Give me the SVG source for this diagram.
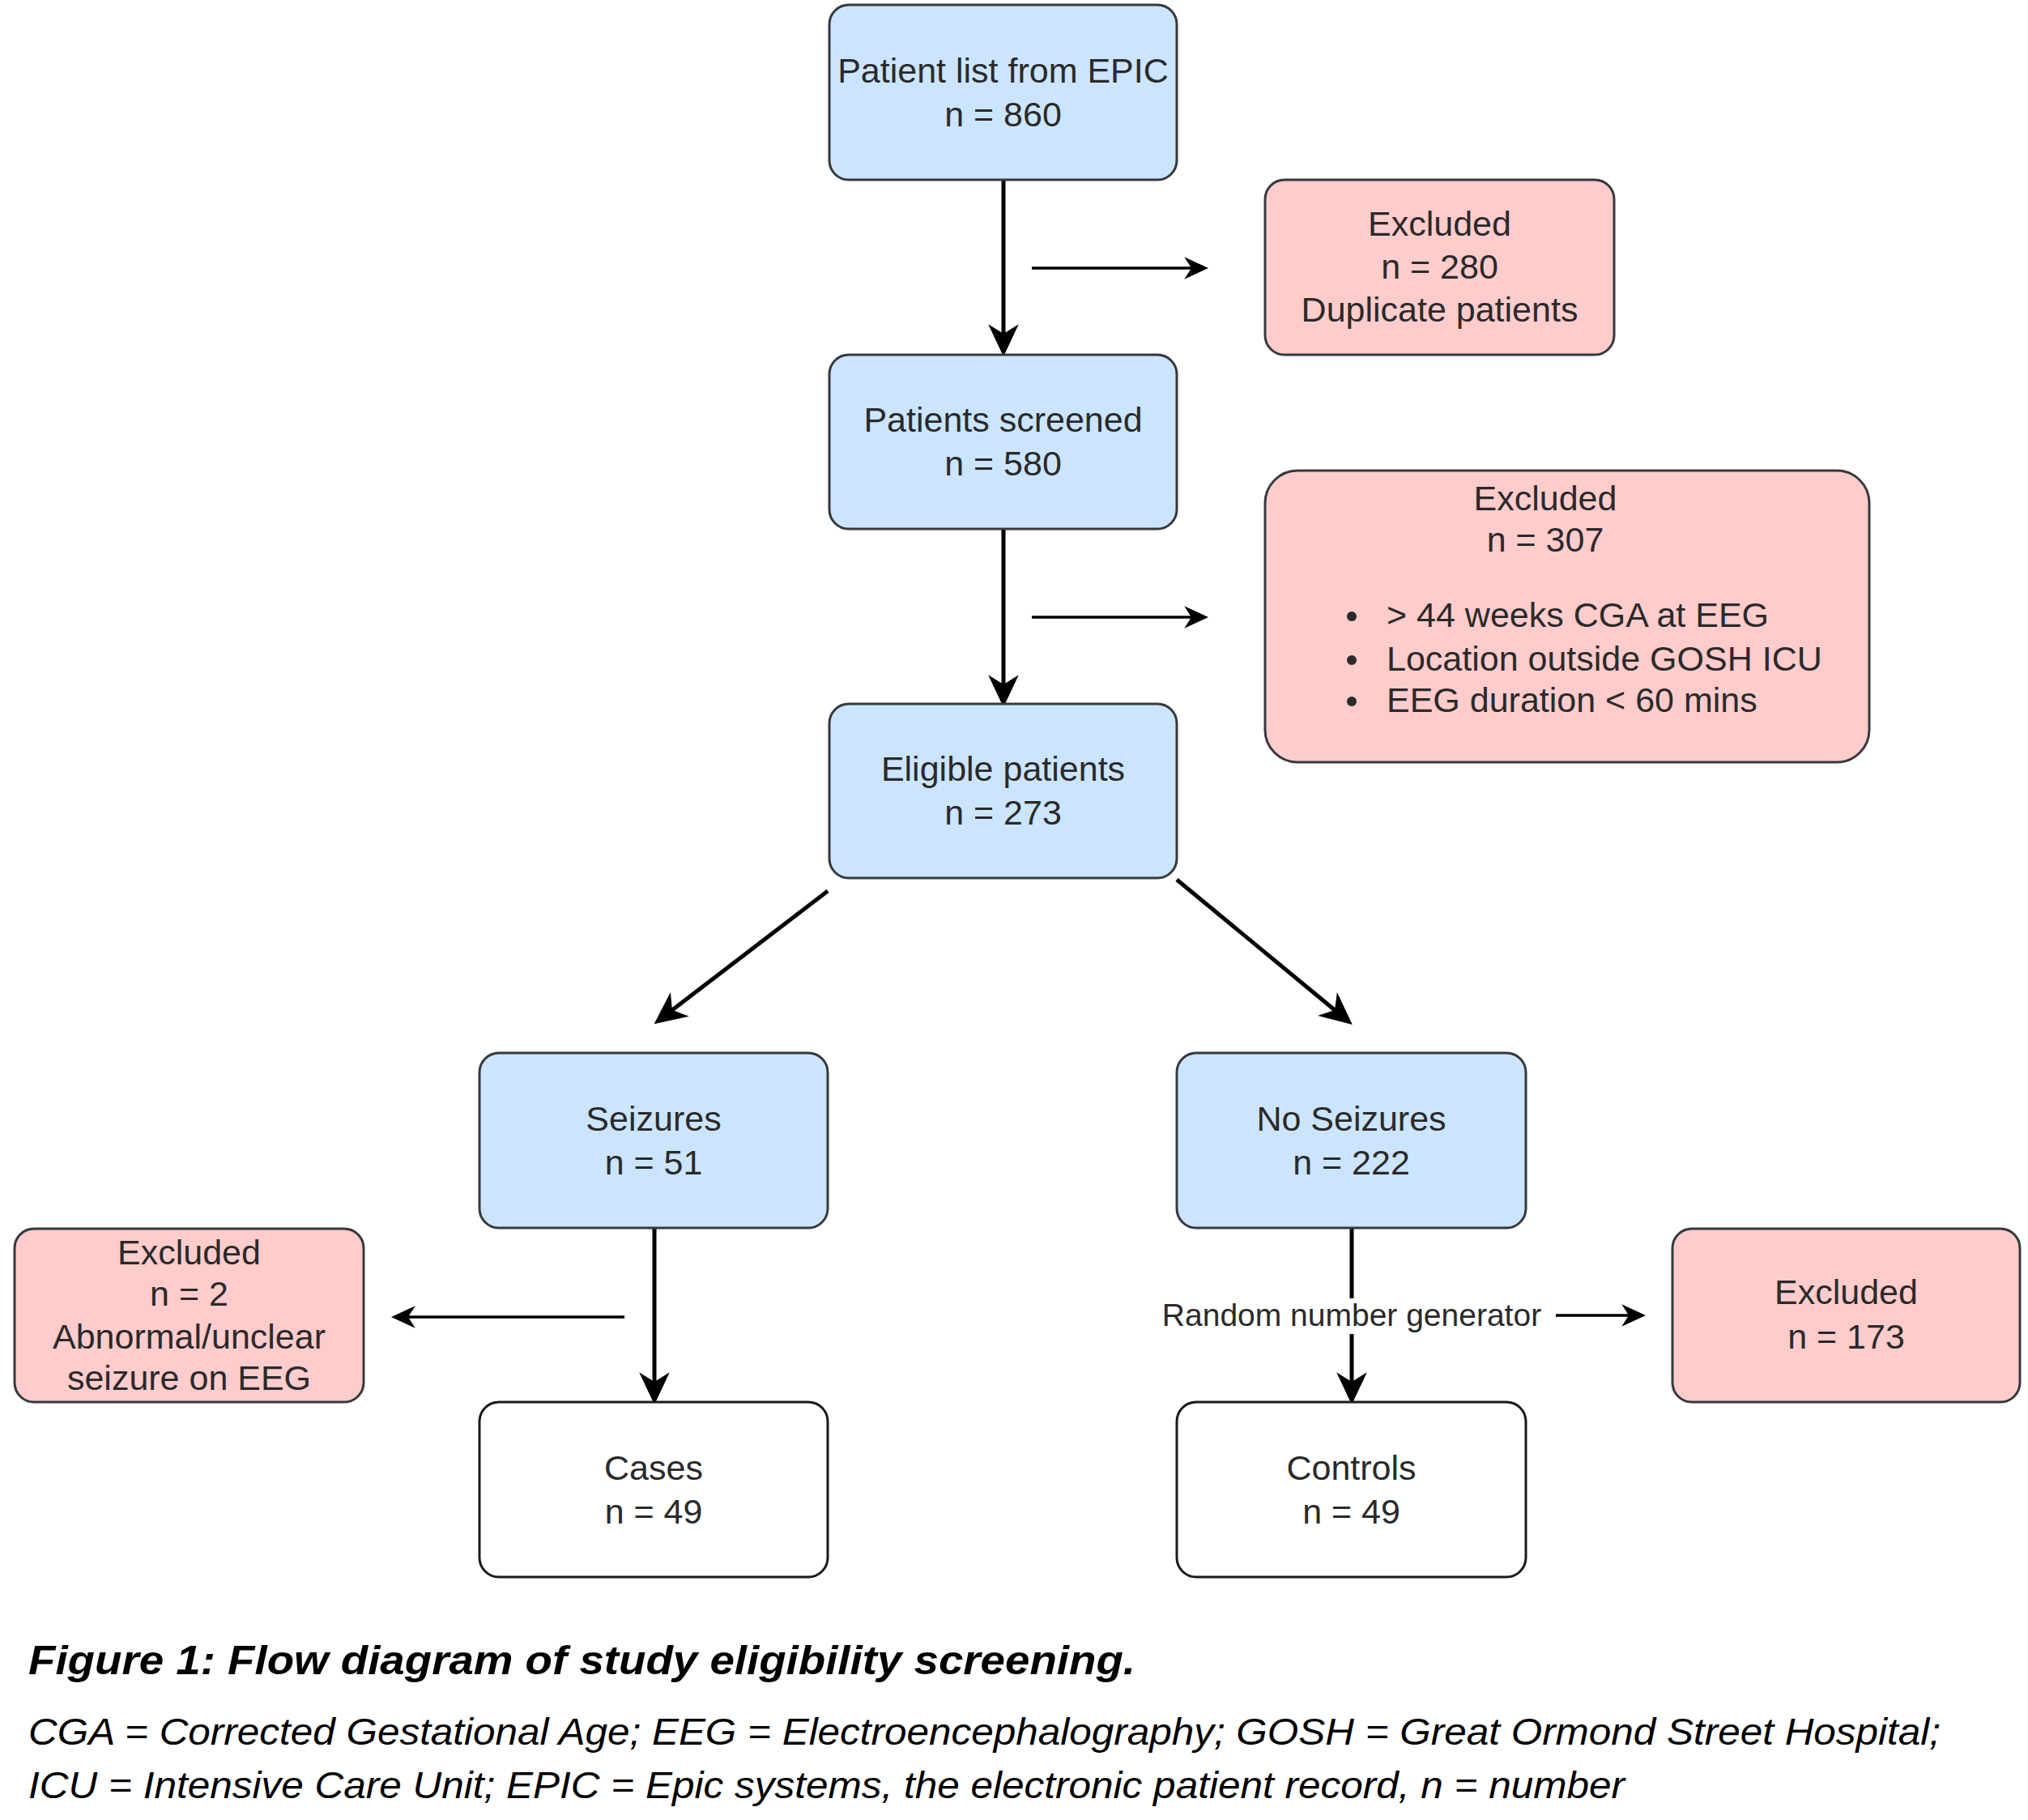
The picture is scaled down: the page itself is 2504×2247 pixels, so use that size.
<svg xmlns="http://www.w3.org/2000/svg" width="2504" height="2247" viewBox="0 0 2504 2247">
<defs>
<style>
.blue{fill:#cce5ff;stroke:#36393d;stroke-width:3}
.pink{fill:#ffcccc;stroke:#36393d;stroke-width:3}
.white{fill:#ffffff;stroke:#1a1a1a;stroke-width:3}
.t{font-family:"Liberation Sans",Arial,sans-serif;font-size:43px;fill:#2a2a2a;text-anchor:middle}
.tl{font-family:"Liberation Sans",Arial,sans-serif;font-size:43px;fill:#2a2a2a}
.main{stroke:#000;stroke-width:5;fill:none;marker-end:url(#big)}
.side{stroke:#000;stroke-width:3.5;fill:none;marker-end:url(#small)}
.lbl{font-family:"Liberation Sans",Arial,sans-serif;font-size:39px;fill:#2a2a2a;text-anchor:middle}
.cap{font-family:"Liberation Sans",Arial,sans-serif;fill:#000}
</style>
<marker id="big" markerUnits="userSpaceOnUse" markerWidth="40" markerHeight="40" viewBox="0 0 34 32" refX="10" refY="16" orient="auto">
<path d="M0,0 L34,16 L0,32 L10,16 Z" fill="#000"/>
</marker>
<marker id="small" markerUnits="userSpaceOnUse" markerWidth="30" markerHeight="30" viewBox="0 0 24 22" refX="7" refY="11" orient="auto">
<path d="M0,0 L24,11 L0,22 L7,11 Z" fill="#000"/>
</marker>
</defs>
<rect width="2504" height="2247" fill="#ffffff"/>
<g id="connectors">
<line class="main" x1="1239" y1="222" x2="1239" y2="412"/>
<line class="side" x1="1274" y1="331" x2="1471" y2="331"/>
<line class="main" x1="1239" y1="653" x2="1239" y2="845"/>
<line class="side" x1="1274" y1="762" x2="1471" y2="762"/>
<line class="main" x1="1022" y1="1100" x2="830" y2="1247"/>
<line class="main" x1="1453" y1="1086" x2="1648" y2="1247"/>
<line class="main" x1="808" y1="1516" x2="808" y2="1706"/>
<line class="side" x1="771" y1="1626" x2="504" y2="1626"/>
<line class="main" x1="1669" y1="1516" x2="1669" y2="1706"/>
<rect x="1428" y="1603" width="484" height="44" fill="#ffffff"/>
<text class="lbl" x="1669" y="1637">Random number generator</text>
<line class="side" x1="1921" y1="1624" x2="2011" y2="1624"/>
</g>
<g id="n1">
<rect class="blue" x="1024" y="6" width="429" height="216" rx="24"/>
<text class="t" x="1238.5" y="102">Patient list from EPIC</text>
<text class="t" x="1238.5" y="156">n = 860</text>
</g>
<g id="ex280">
<rect class="pink" x="1562" y="222" width="431" height="216" rx="24"/>
<text class="t" x="1777.5" y="291">Excluded</text>
<text class="t" x="1777.5" y="344">n = 280</text>
<text class="t" x="1777.5" y="397">Duplicate patients</text>
</g>
<g id="n2">
<rect class="blue" x="1024" y="438" width="429" height="215" rx="24"/>
<text class="t" x="1238.5" y="533">Patients screened</text>
<text class="t" x="1238.5" y="587">n = 580</text>
</g>
<g id="ex307">
<rect class="pink" x="1562" y="581" width="746" height="360" rx="40"/>
<text class="t" x="1908" y="630">Excluded</text>
<text class="t" x="1908" y="681">n = 307</text>
<circle cx="1669" cy="761" r="6" fill="#2a2a2a"/>
<circle cx="1669" cy="815" r="6" fill="#2a2a2a"/>
<circle cx="1669" cy="866" r="6" fill="#2a2a2a"/>
<text class="tl" x="1712" y="774">&gt; 44 weeks CGA at EEG</text>
<text class="tl" x="1712" y="828">Location outside GOSH ICU</text>
<text class="tl" x="1712" y="879">EEG duration &lt; 60 mins</text>
</g>
<g id="n3">
<rect class="blue" x="1024" y="869" width="429" height="215" rx="24"/>
<text class="t" x="1238.5" y="964">Eligible patients</text>
<text class="t" x="1238.5" y="1018">n = 273</text>
</g>
<g id="seiz">
<rect class="blue" x="592" y="1300" width="430" height="216" rx="24"/>
<text class="t" x="807" y="1396">Seizures</text>
<text class="t" x="807" y="1450">n = 51</text>
</g>
<g id="noseiz">
<rect class="blue" x="1453" y="1300" width="431" height="216" rx="24"/>
<text class="t" x="1668.5" y="1396">No Seizures</text>
<text class="t" x="1668.5" y="1450">n = 222</text>
</g>
<g id="ex2">
<rect class="pink" x="18" y="1517" width="431" height="214" rx="24"/>
<text class="t" x="233.5" y="1561">Excluded</text>
<text class="t" x="233.5" y="1612">n = 2</text>
<text class="t" x="233.5" y="1665">Abnormal/unclear</text>
<text class="t" x="233.5" y="1716">seizure on EEG</text>
</g>
<g id="ex173">
<rect class="pink" x="2065" y="1517" width="429" height="214" rx="24"/>
<text class="t" x="2279.5" y="1610">Excluded</text>
<text class="t" x="2279.5" y="1665">n = 173</text>
</g>
<g id="cases">
<rect class="white" x="592" y="1731" width="430" height="216" rx="24"/>
<text class="t" x="807" y="1827">Cases</text>
<text class="t" x="807" y="1881">n = 49</text>
</g>
<g id="controls">
<rect class="white" x="1453" y="1731" width="431" height="216" rx="24"/>
<text class="t" x="1668.5" y="1827">Controls</text>
<text class="t" x="1668.5" y="1881">n = 49</text>
</g>
<g id="caption">
<text class="cap" x="35" y="2067" font-size="50" font-weight="bold" font-style="italic" textLength="1367" lengthAdjust="spacingAndGlyphs">Figure 1: Flow diagram of study eligibility screening.</text>
<text class="cap" x="35" y="2154" font-size="46" font-style="italic" fill="#222" textLength="2361" lengthAdjust="spacingAndGlyphs">CGA = Corrected Gestational Age; EEG = Electroencephalography; GOSH = Great Ormond Street Hospital;</text>
<text class="cap" x="35" y="2220" font-size="46" font-style="italic" fill="#222" textLength="1971" lengthAdjust="spacingAndGlyphs">ICU = Intensive Care Unit; EPIC = Epic systems, the electronic patient record, n = number</text>
</g>
</svg>
